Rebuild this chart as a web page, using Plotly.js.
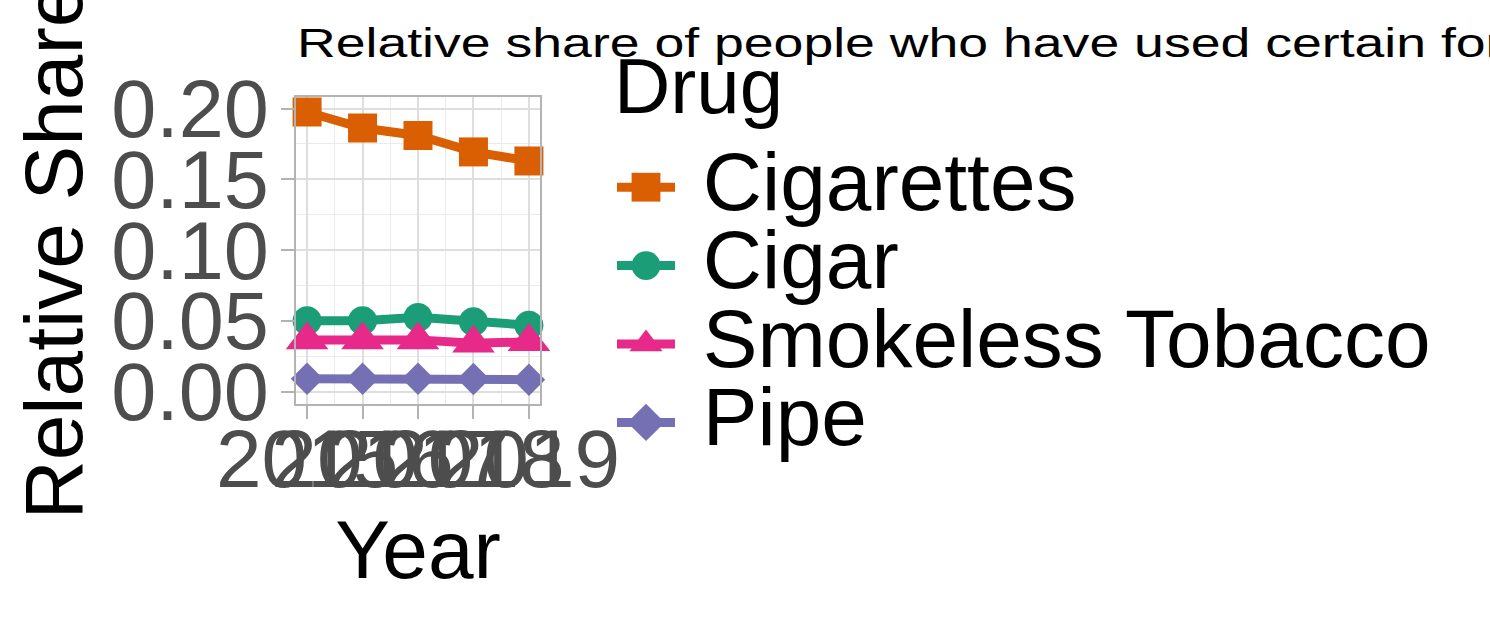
<!DOCTYPE html>
<html>
<head>
<meta charset="utf-8">
<script src="https://cdn.plot.ly/plotly-3.0.1.min.js"></script>
<style>
html,body{margin:0;padding:0;background:#fff;}
#chart{width:1490px;height:617px;}
</style>
</head>
<body>
<div id="chart"></div>
<script>
// ---- data ----
const years = [2015, 2016, 2017, 2018, 2019];
const drugNames = ["Cigarettes", "Cigar", "Smokeless Tobacco", "Pipe"];
const cigarettes = [0.1976, 0.1863, 0.1810, 0.1694, 0.1630];
const cigar = [0.0501, 0.0501, 0.0525, 0.0494, 0.0470];
const smokeless = [0.0366, 0.0366, 0.0366, 0.0342, 0.0352];
const pipe = [0.0091, 0.0091, 0.0091, 0.0090, 0.0085];
const yTickVals = [0, 0.05, 0.10, 0.15, 0.20];
const yTickText = ["0.00", "0.05", "0.10", "0.15", "0.20"];
const titleText = "Relative share of people who have used certain forms of tobacco in the past month";
const xTitle = "Year";
const yTitle = "Relative Share";
const legendTitle = "Drug";

// ---- styles ----
const colors = ["#D95F02", "#1B9E77", "#E7298A", "#7570B3"];
const symbols = ["square", "circle", "triangle-up", "diamond"];
const sizes = [29, 29, 37, 25];
const seriesValues = [cigarettes, cigar, smokeless, pipe];
const FONT = "Liberation Sans, Arial, sans-serif";

const traces = seriesValues.map((vals, i) => ({
  type: "scatter",
  mode: "lines+markers",
  x: years,
  y: vals,
  name: '<span style="font-size:82px">\u00A0' + drugNames[i] + '</span>',
  line: {color: colors[i], width: 9},
  marker: {color: colors[i], symbol: symbols[i], size: sizes[i], line: {width: 0}},
  cliponaxis: false
}));

const gridMajor = "#DEDEDE";
const layout = {
  width: 1490,
  height: 617,
  paper_bgcolor: "#ffffff",
  plot_bgcolor: "#ffffff",
  margin: {l: 296, r: 950, t: 97, b: 213, pad: 0, autoexpand: false},
  font: {family: FONT, color: "#000000"},
  title: {
    text: titleText,
    font: {size: 40, color: "#000000", family: FONT},
    xref: "container", x: 297 / 1490, xanchor: "left",
    yref: "container", y: 1 - 43 / 617, yanchor: "middle"
  },
  xaxis: {
    range: [2014.8, 2019.2],
    tickvals: years,
    ticktext: years.map(String),
    tickangle: 0,
    tickfont: {size: 82, color: "#4D4D4D", family: FONT},
    ticklabelstandoff: -30,
    ticks: "outside", ticklen: 13, tickwidth: 2, tickcolor: "#B3B3B3",
    showgrid: true, gridcolor: gridMajor, gridwidth: 2,
    minor: {dtick: 0.5, tick0: 2014.5, showgrid: true, gridcolor: "#EBEBEB", gridwidth: 1, ticks: ""},
    showline: true, mirror: true, linecolor: "#B3B3B3", linewidth: 2,
    zeroline: false,
    title: {text: xTitle, font: {size: 82, color: "#000000", family: FONT}, standoff: 4},
    automargin: true
  },
  yaxis: {
    range: [-0.0087, 0.2082],
    tickvals: yTickVals,
    ticktext: yTickText,
    tickfont: {size: 81, color: "#4D4D4D", family: FONT},
    ticklabelstandoff: -4,
    ticks: "outside", ticklen: 13, tickwidth: 2, tickcolor: "#B3B3B3",
    showgrid: true, gridcolor: gridMajor, gridwidth: 2,
    minor: {dtick: 0.025, tick0: 0.025, showgrid: true, gridcolor: "#EBEBEB", gridwidth: 1, ticks: ""},
    showline: true, mirror: true, linecolor: "#B3B3B3", linewidth: 2,
    zeroline: false,
    automargin: false
  },
  showlegend: true,
  legend: {
    xref: "container", yref: "container",
    x: 612 / 1490, xanchor: "left",
    y: 1 - 143 / 617, yanchor: "top",
    maxheight: 600,
    font: {size: 58, color: "#000000", family: FONT},
    itemwidth: 58,
    bgcolor: "rgba(0,0,0,0)",
    borderwidth: 0,
    tracegroupgap: 0
  },
  annotations: [
    {
      text: legendTitle,
      xref: "paper", yref: "paper",
      x: (612 - 296) / 244, xanchor: "left",
      y: (404 - 86) / 307, yanchor: "middle",
      showarrow: false,
      font: {size: 78, color: "#000000", family: FONT}
    },
    {
      text: yTitle,
      textangle: -90,
      xref: "paper", yref: "paper",
      x: (53 - 296) / 244, xanchor: "center",
      y: 0.5, yanchor: "middle",
      showarrow: false,
      font: {size: 82, color: "#000000", family: FONT}
    }
  ]
};

Plotly.newPlot("chart", traces, layout, {staticPlot: true, displayModeBar: false}).then(function (gd) {
  // enlarge legend key markers to match the reference key size
  gd.querySelectorAll(".legend .legendpoints path.scatterpts").forEach(function (p) {
    const t = p.getAttribute("transform") || "";
    if (t.indexOf("scale") < 0) p.setAttribute("transform", t + " scale(1.8)");
  });
  // the reference title is drawn horizontally stretched
  const tt = gd.querySelector(".g-gtitle text");
  if (tt) {
    const s = 1.34, x0 = 297;
    const t = tt.getAttribute("transform") || "";
    tt.setAttribute("transform", "matrix(" + s + ",0,0,1," + (x0 * (1 - s)) + ",0) " + t);
  }
});
</script>
</body>
</html>
